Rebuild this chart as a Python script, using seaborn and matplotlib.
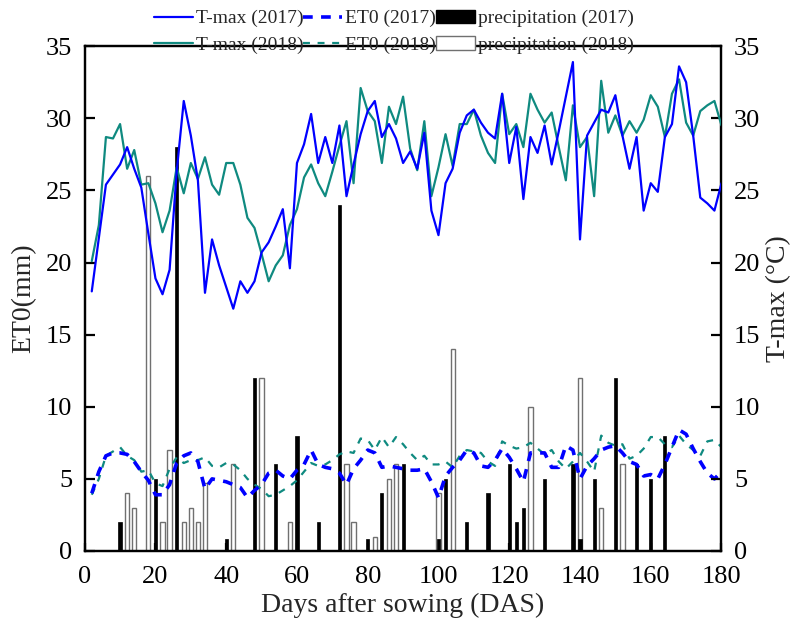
import numpy as np
import pandas as pd
import matplotlib
matplotlib.use("Agg")
import matplotlib.pyplot as plt
import seaborn as sns
from matplotlib.lines import Line2D
from matplotlib.patches import Patch

# ---------------- data ----------------
days = list(range(2, 181, 2))

tmax_2017 = [18.0, 21.7, 25.4, 26.1, 26.8, 28.0, 26.5, 25.2, 22.0, 18.9,
             17.8, 19.5, 26.3, 31.2, 28.8, 25.7, 17.9, 21.6, 19.8, 18.3,
             16.8, 18.7, 17.9, 18.7, 20.7, 21.4, 22.5, 23.7, 19.6, 26.9,
             28.2, 30.3, 26.9, 28.7, 26.9, 29.5, 24.6, 26.8, 28.9, 30.5,
             31.2, 28.7, 29.6, 28.6, 26.9, 27.7, 26.5, 29.0, 23.6, 21.9,
             25.5, 26.5, 29.0, 30.2, 30.6, 29.7, 29.0, 28.6, 31.7, 26.9,
             29.4, 24.4, 28.7, 27.6, 29.5, 26.8, 29.1, 31.5, 33.9, 21.6,
             28.8, 29.7, 30.6, 30.4, 31.6, 28.8, 26.5, 28.7, 23.6, 25.5,
             24.9, 28.7, 29.6, 33.6, 32.5, 28.8, 24.5, 24.1, 23.6, 25.5]

tmax_2018 = [20.1, 22.6, 28.7, 28.6, 29.6, 26.5, 27.8, 25.4, 25.5, 24.1,
             22.1, 23.6, 26.6, 24.8, 26.9, 25.8, 27.3, 25.4, 24.7, 26.9,
             26.9, 25.4, 23.1, 22.4, 20.6, 18.7, 19.8, 20.5, 22.6, 23.7,
             25.9, 26.8, 25.5, 24.6, 26.3, 28.1, 29.8, 25.5, 32.1, 30.5,
             29.8, 26.9, 30.8, 29.6, 31.5, 27.9, 26.4, 29.8, 24.6, 26.6,
             28.9, 26.7, 29.6, 29.6, 30.6, 28.8, 27.6, 26.9, 31.7, 28.9,
             29.6, 28.0, 31.7, 30.6, 29.7, 30.4, 28.0, 25.7, 30.9, 28.0,
             28.7, 24.6, 32.6, 29.0, 30.2, 28.8, 29.8, 29.0, 29.9, 31.6,
             30.8, 28.7, 31.7, 32.7, 29.7, 28.8, 30.5, 30.9, 31.2, 29.5]

et0_2017 = [4.0, 5.5, 6.6, 6.8, 6.8, 6.7, 6.2, 5.5, 4.9, 3.9,
            3.9, 4.6, 6.1, 6.6, 6.8, 6.2, 4.3, 5.0, 4.9, 4.8,
            4.6, 4.4, 3.7, 4.2, 4.6, 5.4, 5.6, 5.2, 5.0, 5.6,
            6.0, 7.0, 6.0, 5.8, 5.7, 5.4, 4.6, 5.7, 6.3, 7.0,
            6.8, 5.8, 5.9, 5.8, 5.7, 5.6, 5.6, 5.7, 4.8, 3.7,
            5.2, 5.8, 6.3, 7.0, 6.8, 5.9, 5.8, 6.3, 7.1, 6.5,
            5.7, 4.8, 6.8, 6.8, 6.8, 5.8, 5.8, 7.3, 7.0, 5.0,
            5.9, 6.4, 7.0, 7.2, 7.3, 6.8, 6.2, 6.0, 5.2, 5.3,
            5.0, 6.0, 7.2, 8.4, 8.1, 7.1, 6.2, 5.4, 5.0, 5.5]

et0_2018 = [3.9, 5.0, 6.6, 6.9, 7.2, 6.6, 6.3, 5.5, 5.6, 4.7,
            4.5, 5.7, 6.5, 6.1, 6.3, 6.3, 6.5, 5.9, 5.8, 6.1,
            6.0, 5.6, 5.0, 4.6, 4.3, 3.8, 3.9, 4.2, 4.5, 4.9,
            5.5, 6.1, 5.9, 6.0, 6.3, 6.7, 6.9, 6.8, 7.8, 7.7,
            7.0, 7.9, 7.2, 7.9, 7.4, 6.8, 6.3, 6.6, 6.0, 6.0,
            6.2, 5.8, 6.6, 7.0, 6.9, 6.8, 6.2, 5.9, 7.6, 7.3,
            7.1, 7.2, 7.5, 7.1, 6.7, 7.0, 6.2, 5.7, 6.2, 6.8,
            6.2, 5.5, 8.0, 7.5, 7.3, 7.4, 6.4, 6.6, 7.1, 7.9,
            7.9, 7.4, 7.2, 8.0, 7.4, 7.0, 6.6, 7.6, 7.7, 7.2]

precip_2017_days = [10, 20, 26, 40, 48, 54, 60, 66, 72, 80, 84, 90, 100, 102,
                    108, 114, 120, 122, 124, 130, 138, 140, 144, 150, 156, 160, 164]
precip_2017 = [2, 5, 28, 0.8, 12, 6, 8, 2, 24, 0.8, 4, 6, 0.8, 5,
               2, 4, 6, 2, 3, 5, 6, 0.8, 5, 12, 6, 5, 8]

precip_2018_days = [12, 14, 18, 22, 24, 28, 30, 32, 34, 42, 50, 58, 74, 76,
                    82, 86, 88, 100, 104, 126, 140, 146, 152]
precip_2018 = [4, 3, 26, 2, 7, 2, 3, 2, 4.7, 6, 12, 2, 6, 2,
               1, 5, 6, 4, 14, 10, 12, 3, 6]

x_ticks = [0, 20, 40, 60, 80, 100, 120, 140, 160, 180]
y_ticks = [0, 5, 10, 15, 20, 25, 30, 35]

# ---------------- style ----------------
sns.set_theme(style="white")
plt.rcParams['font.family'] = ['Liberation Serif', 'DejaVu Serif']
plt.rcParams['lines.scale_dashes'] = False
plt.rcParams['axes.edgecolor'] = 'black'
plt.rcParams['axes.linewidth'] = 1.6

BLUE = '#0000ff'
TEAL = '#0f8a80'

fig = plt.figure(figsize=(7.99, 6.24), dpi=100)
ax = fig.add_axes([0.106, 0.117, 0.797, 0.809])
ax2 = ax.twinx()

# precipitation bars (left axis)
ax.bar(precip_2018_days, precip_2018, width=1.2, color='white',
       edgecolor='#707070', linewidth=1.0, zorder=1)
ax.bar(precip_2017_days, precip_2017, width=0.9, color='black',
       edgecolor='black', linewidth=0.5, zorder=2)

df = pd.DataFrame({'day': days, 'tmax17': tmax_2017, 'tmax18': tmax_2018,
                   'et17': et0_2017, 'et18': et0_2018})

# ET0 on left axis
sns.lineplot(data=df, x='day', y='et18', ax=ax, color=TEAL, lw=1.6,
             linestyle=(0, (5, 5.5)), zorder=3)
sns.lineplot(data=df, x='day', y='et17', ax=ax, color=BLUE, lw=2.6,
             linestyle=(0, (7, 6)), zorder=4)

# T-max on right axis
sns.lineplot(data=df, x='day', y='tmax18', ax=ax2, color=TEAL, lw=1.6, zorder=3)
sns.lineplot(data=df, x='day', y='tmax17', ax=ax2, color=BLUE, lw=1.6, zorder=4)

for a in (ax, ax2):
    a.set_xlim(0, 180)
    a.set_ylim(0, 35)
    a.set_yticks(y_ticks)
    for s in a.spines.values():
        s.set_linewidth(1.6)
        s.set_color('black')

ax.set_xticks(x_ticks)
ax.tick_params(axis='x', direction='in', length=6, width=1.6,
               labelsize=19, colors='black', pad=11, bottom=True, top=False)
ax.tick_params(axis='y', direction='in', length=7, width=1.6,
               labelsize=19, colors='black', pad=9, left=True, right=False)
ax2.tick_params(axis='y', direction='in', length=7, width=1.6,
                labelsize=19, colors='black', right=True, left=False, pad=9)

ax.set_xlabel('Days after sowing (DAS)', fontsize=20, labelpad=3)
ax.set_ylabel('ET0(mm)', fontsize=20, labelpad=7)
ax2.set_ylabel('T-max (°C)', fontsize=20, labelpad=4)

handles = [
    Line2D([], [], color=BLUE, lw=1.6),
    Line2D([], [], color=TEAL, lw=1.6),
    Line2D([], [], color=BLUE, lw=2.6, linestyle=(0, (7, 6))),
    Line2D([], [], color=TEAL, lw=1.6, linestyle=(0, (5, 5.5))),
    Patch(facecolor='black', edgecolor='black'),
    Patch(facecolor='white', edgecolor='#707070'),
]
labels = ['T-max (2017)', 'T-max (2018)', 'ET0 (2017)', 'ET0 (2018)',
          'precipitation (2017)', 'precipitation (2018)']
fig.legend(handles, labels, ncol=3, loc='center', bbox_to_anchor=(0.493, 0.949),
           frameon=False, fontsize=14, handlelength=2.0, columnspacing=0.0,
           handletextpad=0.15, labelspacing=0.45, borderpad=0)

fig.savefig('out.png', dpi=100)
